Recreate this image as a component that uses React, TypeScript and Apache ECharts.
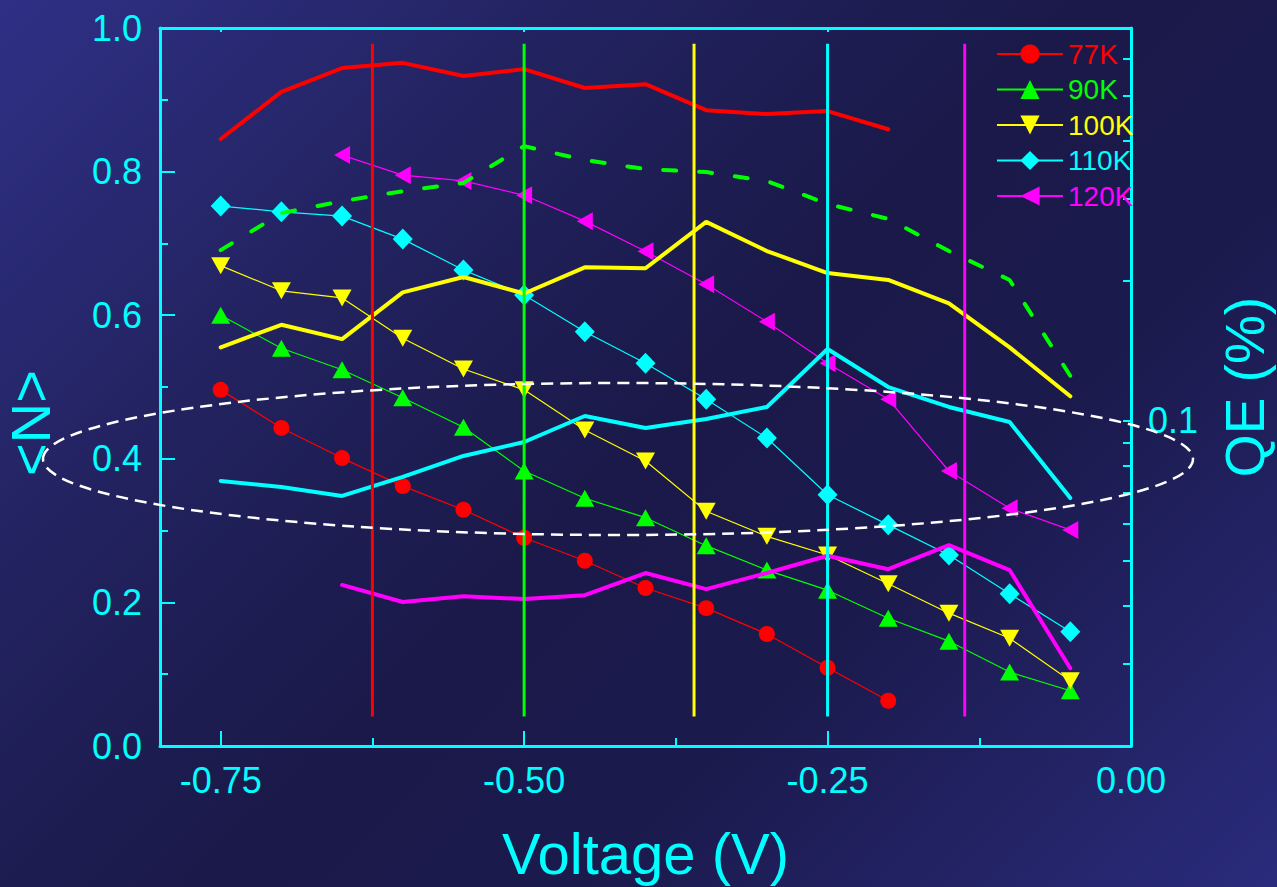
import React, { useEffect, useRef } from "react";
import * as echarts from "echarts";

const voltage = [-0.75, -0.7, -0.65, -0.6, -0.55, -0.5, -0.45, -0.4, -0.35, -0.3, -0.25, -0.2, -0.15, -0.1, -0.05];
const temps = ["77K", "90K", "100K", "110K", "120K"];
const colors = ["#ff0000", "#00ff00", "#ffff00", "#00ffff", "#ff00ff"];

// <N> (left axis), markers + thin lines
const n77 = [0.496, 0.443, 0.401, 0.362, 0.329, 0.29, 0.258, 0.22, 0.192, 0.156, 0.109, 0.063];
const n90 = [0.6, 0.554, 0.524, 0.485, 0.444, 0.383, 0.345, 0.318, 0.279, 0.245, 0.217, 0.178, 0.146, 0.103, 0.077];
const n100 = [0.669, 0.634, 0.624, 0.568, 0.525, 0.496, 0.44, 0.397, 0.327, 0.292, 0.266, 0.226, 0.185, 0.15, 0.091];
const n110 = [0.752, 0.744, 0.738, 0.706, 0.663, 0.628, 0.577, 0.533, 0.483, 0.429, 0.35, 0.308, 0.266, 0.212, 0.159];
const n120 = [0.823, 0.795, 0.787, 0.767, 0.731, 0.689, 0.643, 0.591, 0.533, 0.483, 0.383, 0.331, 0.301];
const nStart = [0, 0, 0, 0, 2];

// QE (%) (right log axis), thick lines
const qe77 = [0.404, 0.51, 0.574, 0.589, 0.552, 0.571, 0.52, 0.53, 0.466, 0.457, 0.464, 0.424];
const qe90 = [0.233, 0.28, 0.297, 0.312, 0.325, 0.39, 0.364, 0.348, 0.343, 0.328, 0.293, 0.272, 0.232, 0.201, 0.125];
const qe100 = [0.144, 0.161, 0.15, 0.189, 0.204, 0.188, 0.214, 0.213, 0.268, 0.232, 0.208, 0.201, 0.179, 0.144, 0.113];
const qe110 = [0.0743, 0.0721, 0.069, 0.0758, 0.0841, 0.0901, 0.1025, 0.0966, 0.101, 0.1072, 0.1428, 0.1183, 0.1072, 0.0995, 0.0683];
const qe120 = [0.0444, 0.0408, 0.042, 0.0414, 0.0422, 0.0471, 0.0435, 0.0471, 0.0513, 0.048, 0.0541, 0.0478, 0.0294];
const qeStart = [0, 0, 0, 0, 2];

// vertical cut-off voltage markers
const cutoffV = [-0.625, -0.5, -0.36, -0.25, -0.137];
const cutoffSpan = [0.041, 0.978];

const xMajorTicks = [-0.75, -0.5, -0.25, 0];
const xMinorTicks = [-0.625, -0.375, -0.125];
const qeMinorTicks = [0.03, 0.04, 0.05, 0.06, 0.07, 0.08, 0.09, 0.2, 0.3, 0.4, 0.5, 0.6];

const FONT = "'Liberation Sans', Arial, Helvetica, sans-serif";
const CYAN = "#00ffff";

const nSets = [n77, n90, n100, n110, n120];
const qeSets = [qe77, qe90, qe100, qe110, qe120];
const symbols = ["circle", "triangle", "path://M0,0L10,0L5,9Z", "diamond", "path://M0,5L9,0L9,10Z"];
const symbolSizes: any[] = [16, [19, 17], [19, 17], [20, 21], [16, 18]];

function pairs(vals: number[], start: number) {
  return vals.map((v, i) => [voltage[i + start], v]);
}

function buildOption(): any {
  const series: any[] = [];
  nSets.forEach((vals, i) => {
    series.push({
      name: temps[i],
      type: "line",
      xAxisIndex: 0,
      yAxisIndex: 0,
      data: pairs(vals, nStart[i]),
      symbol: symbols[i],
      symbolSize: symbolSizes[i],
      showSymbol: true,
      itemStyle: { color: colors[i] },
      lineStyle: { color: colors[i], width: 1.2 },
      z: 2,
    });
  });
  qeSets.forEach((vals, i) => {
    series.push({
      name: "QE " + temps[i],
      type: "line",
      xAxisIndex: 0,
      yAxisIndex: 1,
      data: pairs(vals, qeStart[i]),
      symbol: "none",
      itemStyle: { color: colors[i] },
      lineStyle: i === 1
        ? { color: colors[i], width: 4, type: [13, 23], cap: "round" }
        : { color: colors[i], width: 4, cap: "round" },
      z: 3,
    });
  });
  cutoffV.forEach((v, i) => {
    series.push({
      name: "cut " + temps[i],
      type: "line",
      xAxisIndex: 0,
      yAxisIndex: 0,
      data: cutoffSpan.map((y) => [v, y]),
      symbol: "none",
      itemStyle: { color: colors[i] },
      lineStyle: { color: colors[i], width: 3 },
      z: 4,
    });
  });

  return {
    animation: false,
    backgroundColor: "transparent",
    textStyle: { fontFamily: FONT },
    grid: { left: 160, right: 146, top: 28, bottom: 141, containLabel: false, outerBoundsMode: "none" },
    legend: {
      data: temps.map((t, i) => ({ name: t, textStyle: { color: colors[i] } })),
      orient: "vertical",
      left: 991,
      top: 35,
      itemWidth: 66,
      itemHeight: 24,
      itemGap: 7.5,
      textStyle: { fontSize: 28, fontFamily: FONT },
    },
    xAxis: [
      {
        type: "value",
        min: -0.8,
        max: 0,
        position: "bottom",
        splitLine: { show: false },
        axisLine: { show: true, onZero: false, lineStyle: { color: CYAN, width: 3 } },
        axisTick: { show: true, inside: true, length: 15, customValues: xMajorTicks, lineStyle: { color: CYAN, width: 2 } },
        axisLabel: {
          show: true,
          customValues: xMajorTicks,
          formatter: (v: number) => v.toFixed(2),
          color: CYAN,
          fontSize: 36,
          fontFamily: FONT,
          margin: 16,
        },
        name: "Voltage (V)",
        nameLocation: "middle",
        nameGap: 78,
        nameTextStyle: { color: CYAN, fontSize: 58, fontFamily: FONT },
      },
      {
        type: "value",
        min: -0.8,
        max: 0,
        position: "bottom",
        splitLine: { show: false },
        axisLine: { show: false, onZero: false },
        axisTick: { show: true, inside: true, length: 8, customValues: xMinorTicks, lineStyle: { color: CYAN, width: 2 } },
        axisLabel: { show: false },
      },
      {
        type: "value",
        min: -0.8,
        max: 0,
        position: "top",
        splitLine: { show: false },
        axisLine: { show: true, onZero: false, lineStyle: { color: CYAN, width: 3 } },
        axisTick: { show: true, inside: true, length: 4, customValues: xMajorTicks, lineStyle: { color: CYAN, width: 2 } },
        axisLabel: { show: false },
      },
    ],
    yAxis: [
      {
        type: "value",
        min: 0,
        max: 1,
        interval: 0.2,
        position: "left",
        splitLine: { show: false },
        axisLine: { show: true, onZero: false, lineStyle: { color: CYAN, width: 3 } },
        axisTick: { show: true, inside: true, length: 15, lineStyle: { color: CYAN, width: 2 } },
        minorTick: { show: true, splitNumber: 2, length: 8, lineStyle: { color: CYAN, width: 2 } },
        axisLabel: {
          color: CYAN,
          fontSize: 36,
          fontFamily: FONT,
          margin: 18,
          formatter: (v: number) => v.toFixed(1),
        },
        name: "<N>",
        nameLocation: "middle",
        nameGap: 102,
        nameTextStyle: { color: CYAN, fontSize: 56, fontFamily: FONT, padding: [0, 72, 0, 0] },
      },
      {
        type: "log",
        logBase: 10,
        min: 0.02,
        max: 0.7,
        position: "right",
        splitLine: { show: false },
        axisLine: { show: true, onZero: false, lineStyle: { color: CYAN, width: 3 } },
        axisTick: { show: true, inside: true, length: 8, lineStyle: { color: CYAN, width: 2 } },
        axisLabel: {
          color: CYAN,
          fontSize: 36,
          fontFamily: FONT,
          margin: 17,
          showMinLabel: false,
          showMaxLabel: false,
          formatter: (v: number) => (Math.abs(v - 0.1) < 1e-9 ? "0.1" : ""),
        },
        name: "QE (%)",
        nameLocation: "middle",
        nameGap: 86,
        nameTextStyle: { color: CYAN, fontSize: 55, fontFamily: FONT },
      },
      {
        type: "value",
        min: Math.log10(0.02),
        max: Math.log10(0.7),
        position: "right",
        splitLine: { show: false },
        axisLine: { show: false, onZero: false },
        axisTick: {
          show: true,
          inside: true,
          length: 8,
          customValues: qeMinorTicks.map((t) => Math.log10(t)),
          lineStyle: { color: CYAN, width: 2 },
        },
        axisLabel: { show: false },
      },
    ],
    graphic: [
      {
        type: "ellipse",
        z: 100,
        shape: { cx: 618, cy: 459, rx: 575, ry: 76 },
        style: { fill: "none", stroke: "#ffffff", lineWidth: 2.5, lineDash: [12, 7] },
      },
    ],
    series,
  };
}

export default function App() {
  const ref = useRef<HTMLDivElement>(null);
  useEffect(() => {
    if (!ref.current) return;
    const chart = echarts.init(ref.current, undefined, { renderer: "svg" });
    chart.setOption(buildOption());
    return () => chart.dispose();
  }, []);
  return (
    <div
      ref={ref}
      style={{
        position: "absolute",
        left: 0,
        top: 0,
        width: 1277,
        height: 887,
        background:
          "linear-gradient(135deg, #2f3086 0%, #22225f 28%, #1a1949 50%, #1b1a4d 68%, #2a2b7c 100%)",
      }}
    />
  );
}
